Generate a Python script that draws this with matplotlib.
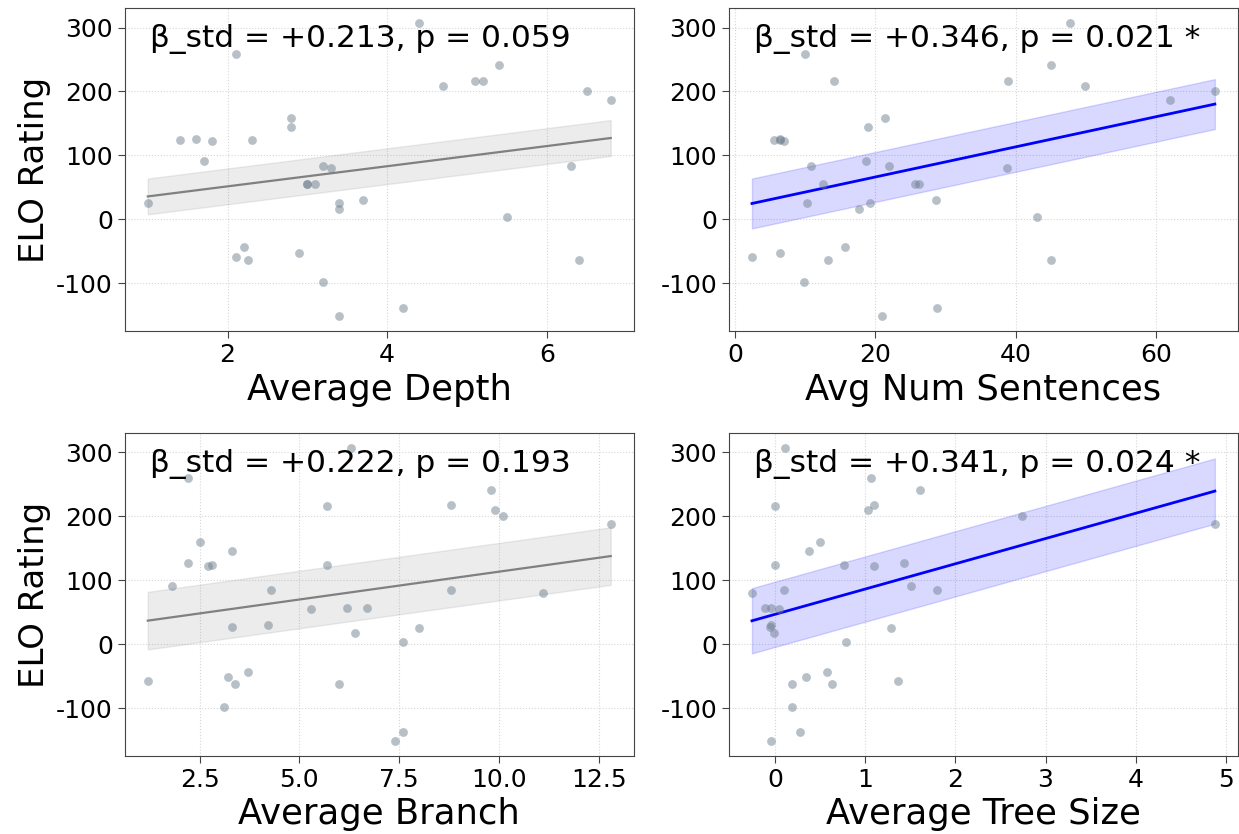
import numpy as np
import matplotlib
matplotlib.use("Agg")
import matplotlib.pyplot as plt

plt.rcParams["font.family"] = ["DejaVu Sans"]
plt.rcParams["axes.unicode_minus"] = False

# ELO rating per model
elo = [307, 259, 241, 217, 216, 209, 201, 187, 159, 145, 126, 124, 124, 122,
       91, 84, 84, 80, 56, 56, 55, 30, 26, 25, 17, 4, -43, -52, -58, -63,
       -63, -98, -138, -151]

# tree metrics per model (same order as elo)
avg_depth = [4.4, 2.1, 5.4, 5.2, 5.1, 4.7, 6.5, 6.8, 2.8, 2.8, 1.6, 1.4, 2.3, 1.8,
             1.7, 3.2, 6.3, 3.3, 3.0, 3.0, 3.1, 3.7, 1.0, 3.4, 3.4, 5.5, 2.2, 2.9,
             2.1, 2.25, 6.4, 3.2, 4.2, 3.4]
avg_sentences = [47.7, 10.0, 45.1, 14.1, 38.9, 49.9, 68.4, 62.0, 21.4, 19.0, 6.4,
                 5.6, 6.4, 6.9, 18.6, 10.8, 21.9, 38.7, 12.5, 25.6, 26.2, 28.6,
                 10.2, 19.2, 17.6, 43.1, 15.6, 6.4, 2.4, 13.3, 45.1, 9.8, 28.8, 20.9]
avg_branch = [6.3, 2.2, 9.8, 8.8, 5.7, 9.9, 10.1, 12.8, 2.5, 3.3, 2.2, 2.8, 5.7, 2.7,
              1.8, 4.3, 8.8, 11.1, 6.2, 6.7, 5.3, 4.2, 3.3, 8.0, 6.4, 7.6, 3.7, 3.2,
              1.2, 3.375, 6.0, 3.1, 7.6, 7.4]
avg_tree_size = [0.11, 1.06, 1.61, 1.09, 0.0, 1.03, 2.74, 4.88, 0.50, 0.37, 1.43,
                 0.0, 0.76, 1.10, 1.51, 0.10, 1.80, -0.26, -0.11, -0.05, 0.044,
                 -0.05, -0.06, 1.28, -0.015, 0.78, 0.57, 0.34, 1.36, 0.18, 0.63,
                 0.19, 0.27, -0.044]

x_labels = ["Average Depth", "Avg Num Sentences", "Average Branch", "Average Tree Size"]
beta_std = [0.213, 0.346, 0.222, 0.341]
p_values = [0.059, 0.021, 0.193, 0.024]
band_half_width = [28, 39, 45, 51]

metrics = [avg_depth, avg_sentences, avg_branch, avg_tree_size]

fig = plt.figure(figsize=(12.39, 8.34), dpi=100)
gs = fig.add_gridspec(2, 2, left=0.1006, right=0.9992, bottom=0.0935, top=0.990,
                      wspace=0.1865, hspace=0.3146)

y = np.array(elo, dtype=float)
for i, xs in enumerate(metrics):
    ax = fig.add_subplot(gs[i // 2, i % 2])
    x = np.array(xs, dtype=float)
    sig = p_values[i] < 0.05
    line_color = "blue" if sig else "gray"

    ax.scatter(x, y, s=40, color="slategray", alpha=0.5, linewidths=0, zorder=3)

    slope, intercept = np.polyfit(x, y, 1)
    xx = np.linspace(x.min(), x.max(), 100)
    yy = slope * xx + intercept
    ax.fill_between(xx, yy - band_half_width[i], yy + band_half_width[i],
                    color=line_color, alpha=0.15, zorder=1)
    ax.plot(xx, yy, color=line_color, lw=2.0 if sig else 1.6, zorder=2)

    star = " *" if sig else ""
    ax.text(0.05, 0.95, f"β_std = +{beta_std[i]:.3f}, p = {p_values[i]:.3f}{star}",
            transform=ax.transAxes, ha="left", va="top", fontsize=22.5)

    ax.set_ylim(-175, 330)
    ax.set_yticks([-100, 0, 100, 200, 300])
    ax.grid(True, linestyle=":", color="#cccccc", linewidth=0.8, alpha=0.8)
    ax.set_axisbelow(True)
    ax.tick_params(labelsize=18, length=5, color="#444444")
    for s in ax.spines.values():
        s.set_color("#444444")
    ax.set_xlabel(x_labels[i], fontsize=25.5)
    if i % 2 == 0:
        ax.set_ylabel("ELO Rating", fontsize=24.5)

fig.savefig("out.png", dpi=100)
